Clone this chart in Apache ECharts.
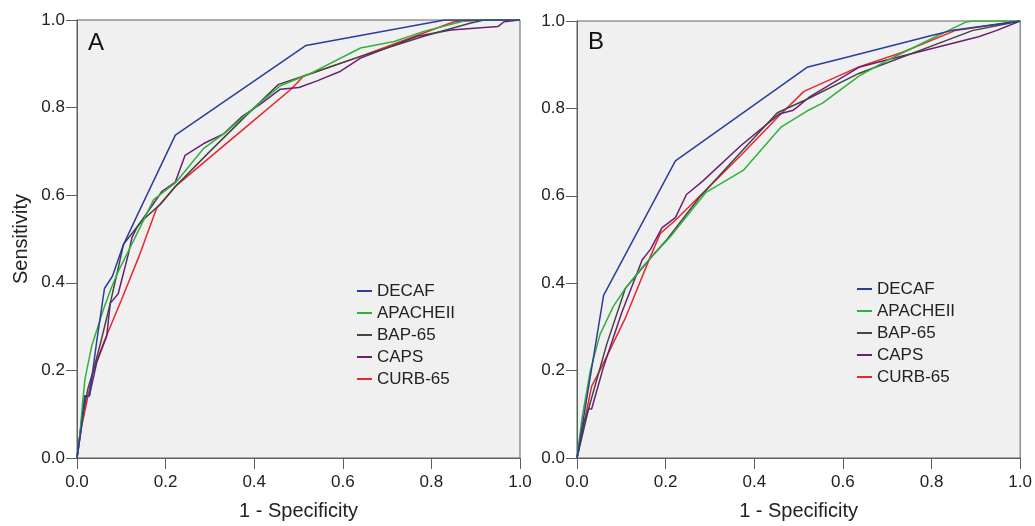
<!DOCTYPE html>
<html>
<head>
<meta charset="utf-8">
<script src="https://cdn.jsdelivr.net/npm/echarts@6/dist/echarts.min.js"></script>
<style>
html,body{margin:0;padding:0;background:#fff;}
#chart{width:1035px;height:526px;}
</style>
</head>
<body>
<div id="chart"></div>
<script>
// ---- data (x = 1 - Specificity, y = Sensitivity) ----
const seriesNames = ['DECAF', 'APACHEII', 'BAP-65', 'CAPS', 'CURB-65'];
const tickValues = [0, 0.2, 0.4, 0.6, 0.8, 1.0];

// Panel A
const decafA = [[0,0],[0.01,0.07],[0.018,0.142],[0.028,0.142],[0.045,0.27],[0.062,0.387],[0.08,0.415],[0.104,0.485],[0.134,0.55],[0.222,0.737],[0.517,0.942],[0.83,1.0],[1,1]];
const apacheA = [[0,0],[0.005,0.034],[0.012,0.12],[0.018,0.18],[0.033,0.255],[0.06,0.34],[0.078,0.39],[0.095,0.43],[0.109,0.458],[0.131,0.503],[0.173,0.59],[0.222,0.628],[0.286,0.707],[0.331,0.74],[0.4,0.8],[0.459,0.85],[0.523,0.876],[0.64,0.936],[0.716,0.951],[0.783,0.974],[0.882,1.0],[1,1]];
const bapA = [[0,0],[0.01,0.08],[0.025,0.16],[0.037,0.2],[0.055,0.27],[0.075,0.353],[0.09,0.42],[0.105,0.488],[0.146,0.541],[0.188,0.579],[0.222,0.62],[0.3,0.7],[0.38,0.78],[0.455,0.853],[0.512,0.872],[0.64,0.917],[0.783,0.963],[0.889,0.993],[0.919,1.0],[1,1]];
const capsA = [[0,0],[0.01,0.08],[0.018,0.142],[0.028,0.142],[0.045,0.22],[0.067,0.278],[0.075,0.353],[0.093,0.375],[0.116,0.466],[0.124,0.503],[0.135,0.526],[0.192,0.609],[0.222,0.63],[0.244,0.691],[0.286,0.718],[0.331,0.74],[0.373,0.78],[0.414,0.808],[0.459,0.842],[0.501,0.846],[0.542,0.861],[0.595,0.883],[0.64,0.913],[0.768,0.963],[0.844,0.977],[0.95,0.985],[0.964,0.996],[1,1]];
const curbA = [[0,0],[0.01,0.07],[0.037,0.2],[0.06,0.263],[0.1,0.36],[0.139,0.458],[0.18,0.571],[0.222,0.62],[0.39,0.763],[0.483,0.842],[0.512,0.872],[0.64,0.917],[0.851,0.996],[0.919,1.0],[1,1]];

// Panel B
const decafB = [[0,0],[0.06,0.372],[0.131,0.507],[0.222,0.68],[0.519,0.894],[0.613,0.918],[0.80,0.967],[0.845,0.978],[1,1]];
const apacheB = [[0,0],[0.011,0.089],[0.03,0.2],[0.052,0.283],[0.082,0.347],[0.109,0.388],[0.15,0.44],[0.211,0.507],[0.291,0.608],[0.375,0.658],[0.46,0.757],[0.519,0.794],[0.554,0.812],[0.636,0.874],[0.704,0.912],[0.809,0.964],[0.876,0.997],[0.892,1],[1,1]];
const bapB = [[0,0],[0.026,0.112],[0.067,0.26],[0.109,0.388],[0.173,0.466],[0.203,0.5],[0.276,0.596],[0.37,0.7],[0.452,0.79],[0.519,0.821],[0.636,0.88],[0.892,0.978],[1,1]];
const capsB = [[0,0],[0.015,0.08],[0.026,0.112],[0.033,0.112],[0.06,0.209],[0.1,0.33],[0.147,0.453],[0.166,0.478],[0.192,0.527],[0.222,0.55],[0.247,0.603],[0.283,0.633],[0.37,0.715],[0.456,0.787],[0.486,0.795],[0.497,0.803],[0.523,0.825],[0.636,0.894],[0.681,0.906],[0.906,0.964],[0.946,0.978],[1,1]];
const curbB = [[0,0],[0.033,0.164],[0.056,0.209],[0.109,0.32],[0.166,0.462],[0.188,0.514],[0.222,0.544],[0.37,0.693],[0.456,0.783],[0.512,0.839],[0.636,0.895],[0.733,0.928],[0.853,0.978],[1,1]];

const colors = ['#2b3d98', '#2fb23a', '#444444', '#6b1f73', '#e8262b'];
const panelA = [decafA, apacheA, bapA, capsA, curbA];
const panelB = [decafB, apacheB, bapB, capsB, curbB];

const FONT = 'Liberation Sans, Arial, sans-serif';
const axisGray = '#5e5e5e';

function xAxisCfg(gridIndex) {
  return {
    type: 'value', gridIndex: gridIndex, min: 0, max: 1, interval: 0.2,
    name: '1 - Specificity', nameLocation: 'middle', nameGap: 43,
    nameTextStyle: {fontFamily: FONT, fontSize: 20, color: '#222'},
    axisLine: {show: true, lineStyle: {color: axisGray, width: 1}},
    axisTick: {show: true, length: 11, inside: false, lineStyle: {color: axisGray}},
    axisLabel: {fontFamily: FONT, fontSize: 17, color: '#222', margin: 16,
      formatter: v => v.toFixed(1)},
    splitLine: {show: false}
  };
}
function yAxisCfg(gridIndex, withName) {
  return {
    type: 'value', gridIndex: gridIndex, min: 0, max: 1, interval: 0.2,
    name: withName ? 'Sensitivity' : '', nameLocation: 'middle', nameGap: 46,
    nameTextStyle: {fontFamily: FONT, fontSize: 20, color: '#222'},
    axisLine: {show: true, lineStyle: {color: axisGray, width: 1}},
    axisTick: {show: true, length: 11, inside: false, lineStyle: {color: axisGray}},
    axisLabel: {fontFamily: FONT, fontSize: 17, color: '#222', margin: 12,
      formatter: v => v.toFixed(1)},
    splitLine: {show: false}
  };
}
function legendCfg(left, top) {
  return {
    orient: 'vertical', left: left, top: top, padding: 0,
    data: seriesNames, icon: 'rect', itemWidth: 15, itemHeight: 2, itemGap: 4,
    selectedMode: false,
    textStyle: {fontFamily: FONT, fontSize: 17, color: '#222', lineHeight: 18}
  };
}

const series = [];
panelA.forEach((d, i) => series.push({
  name: seriesNames[i], type: 'line', data: d, xAxisIndex: 0, yAxisIndex: 0,
  showSymbol: false, symbol: 'none', color: colors[i], lineStyle: {width: 1.5, color: colors[i]}, z: 5 - i
}));
panelB.forEach((d, i) => series.push({
  name: seriesNames[i], type: 'line', data: d, xAxisIndex: 1, yAxisIndex: 1,
  showSymbol: false, symbol: 'none', color: colors[i], lineStyle: {width: 1.5, color: colors[i]}, z: 5 - i
}));

const chart = echarts.init(document.getElementById('chart'), null, {renderer: 'canvas'});
chart.setOption({
  animation: false,
  backgroundColor: '#ffffff',
  grid: [
    {left: 77, top: 20, width: 443, height: 441, show: true, backgroundColor: '#f0f0f0', borderColor: axisGray, borderWidth: 1},
    {left: 577, top: 21, width: 445, height: 444, show: true, backgroundColor: '#f0f0f0', borderColor: axisGray, borderWidth: 1}
  ],
  xAxis: [xAxisCfg(0), xAxisCfg(1)],
  yAxis: [yAxisCfg(0, true), yAxisCfg(1, false)],
  legend: [legendCfg(357, 282), legendCfg(857, 280)],
  graphic: [
    {type: 'text', left: 88, top: 31, style: {text: 'A', fontFamily: FONT, fontSize: 24, fill: '#111'}},
    {type: 'text', left: 588, top: 30, style: {text: 'B', fontFamily: FONT, fontSize: 24, fill: '#111'}}
  ],
  series: series
});
</script>
</body>
</html>
